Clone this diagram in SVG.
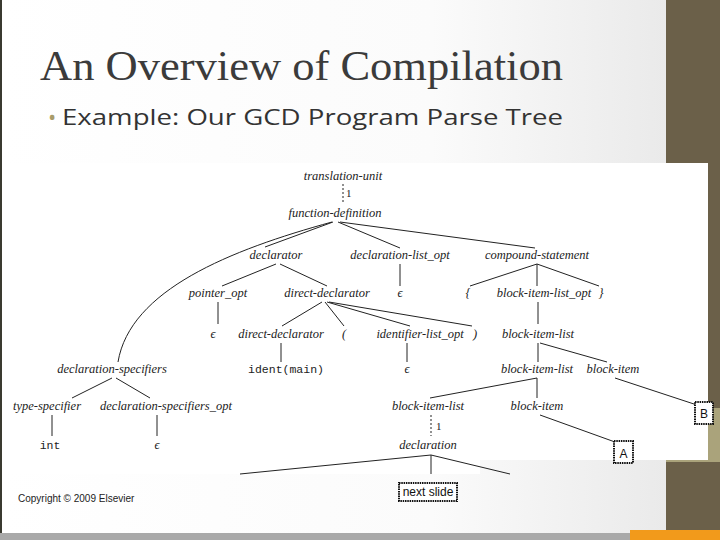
<svg xmlns="http://www.w3.org/2000/svg" width="720" height="540" viewBox="0 0 720 540">
<defs>
<linearGradient id="bg" x1="0" y1="0" x2="1" y2="0"><stop offset="0" stop-color="#ffffff"/><stop offset="0.6" stop-color="#fbfbfb"/><stop offset="1" stop-color="#e6e6e6"/></linearGradient>
<style>
.nt{font-family:"Liberation Serif",serif;font-style:italic;font-size:12.5px;fill:#222;text-anchor:middle}
.mo{font-family:"Liberation Mono",monospace;font-size:11.5px;fill:#222;text-anchor:middle}
.num{font-family:"Liberation Serif",serif;font-size:11px;fill:#222}
.ln{stroke:#222;stroke-width:1;fill:none}
.ds{stroke:#222;stroke-width:1;stroke-dasharray:2,2;fill:none}
.bx{fill:#fff;stroke:#111;stroke-width:2;stroke-dasharray:1.5,0.8}
.bt{font-family:"Liberation Sans",sans-serif;font-size:12px;fill:#111;text-anchor:middle}
</style>
</defs>
<rect width="720" height="540" fill="url(#bg)"/>
<rect x="0" y="0" width="2" height="540" fill="#3a3a30"/>
<rect x="666" y="0" width="54" height="540" fill="#6b6049"/>
<rect x="666" y="408" width="54" height="54" fill="#aaa37b"/>
<rect x="0" y="533" width="720" height="7" fill="#a9a9a9"/>
<rect x="630" y="530" width="90" height="10" fill="#f29a1b"/>
<rect x="2" y="163" width="706" height="297" fill="#fff"/>
<rect x="2" y="460" width="478" height="14" fill="#fff"/>
<text x="40" y="80" font-family="Liberation Serif,serif" font-size="42" fill="#3b3b3b" textLength="523" lengthAdjust="spacingAndGlyphs">An Overview of Compilation</text>
<text x="48" y="125" font-family="Open Sans,sans-serif" font-size="22" fill="#a89c6a">•</text>
<text x="62" y="125" font-family="Open Sans,sans-serif" font-size="22" fill="#333" textLength="501" lengthAdjust="spacingAndGlyphs">Example: Our GCD Program Parse Tree</text>
<text x="18" y="502" font-family="Liberation Sans,sans-serif" font-size="10" fill="#222">Copyright © 2009 Elsevier</text>
<g id="connectors">
<path class="ds" d="M343 184V204"/>
<path class="ln" d="M332 222C230 250 130 290 118 362"/>
<path class="ln" d="M333 222L265 247M338 222L400 248M340 222L535 248"/>
<path class="ln" d="M276 264L222 286M280 264L327 286M400 264V286"/>
<path class="ln" d="M537 264L470 286M537 264V286M537 264L599 286"/>
<path class="ln" d="M218 302V324"/>
<path class="ln" d="M322 302L282 326M325 302L344 326M327 302L410 326M329 302L472 326"/>
<path class="ln" d="M538 302V324"/>
<path class="ln" d="M281 343V362M407 343V362"/>
<path class="ln" d="M538 343V362M540 343L607 362"/>
<path class="ln" d="M112 378L72 398M116 378L150 398"/>
<path class="ln" d="M537 378L430 398M537 378V398M615 378L697 405"/>
<path class="ln" d="M540 415L615 442"/>
<path class="ln" d="M52 415V436M157 415V436"/>
<path class="ds" d="M431 415V436"/>
<path class="ln" d="M431 455L240 474M431 455V474M431 455L510 474"/>
</g>
<g id="n-tu"><text class="nt" x="343" y="180">translation-unit</text><text class="num" x="346" y="197">1</text></g>
<g id="n-fd"><text class="nt" x="335" y="217">function-definition</text></g>
<g id="n-decl"><text class="nt" x="276" y="259">declarator</text></g>
<g id="n-dlo"><text class="nt" x="400" y="259">declaration-list_opt</text></g>
<g id="n-cs"><text class="nt" x="537" y="259">compound-statement</text></g>
<g id="n-po"><text class="nt" x="218" y="297">pointer_opt</text></g>
<g id="n-dd"><text class="nt" x="327" y="297">direct-declarator</text></g>
<g id="n-e1"><text class="nt" x="400" y="297">ϵ</text></g>
<g id="n-lb"><text class="nt" x="468" y="297">{</text></g>
<g id="n-bilo"><text class="nt" x="544" y="297">block-item-list_opt</text></g>
<g id="n-rb"><text class="nt" x="601" y="297">}</text></g>
<g id="n-e2"><text class="nt" x="213" y="338">ϵ</text></g>
<g id="n-dd2"><text class="nt" x="281" y="338">direct-declarator</text></g>
<g id="n-lp"><text class="nt" x="344" y="338">(</text></g>
<g id="n-ilo"><text class="nt" x="420" y="338">identifier-list_opt</text></g>
<g id="n-rp"><text class="nt" x="475" y="338">)</text></g>
<g id="n-bil1"><text class="nt" x="538" y="338">block-item-list</text></g>
<g id="n-ds"><text class="nt" x="112" y="373">declaration-specifiers</text></g>
<g id="n-id"><text class="mo" x="286" y="373">ident(main)</text></g>
<g id="n-e3"><text class="nt" x="407" y="373">ϵ</text></g>
<g id="n-bil2"><text class="nt" x="537" y="373">block-item-list</text></g>
<g id="n-bi1"><text class="nt" x="613" y="373">block-item</text></g>
<g id="n-ts"><text class="nt" x="47" y="410">type-specifier</text></g>
<g id="n-dso"><text class="nt" x="166" y="410">declaration-specifiers_opt</text></g>
<g id="n-bil3"><text class="nt" x="428" y="410">block-item-list</text><text class="num" x="436" y="430">1</text></g>
<g id="n-bi2"><text class="nt" x="537" y="410">block-item</text></g>
<g id="n-int"><text class="mo" x="50" y="449">int</text></g>
<g id="n-e4"><text class="nt" x="157" y="449">ϵ</text></g>
<g id="n-dcl"><text class="nt" x="428" y="449">declaration</text></g>
<g id="n-B"><rect class="bx" x="695" y="402" width="18" height="22"/><text class="bt" x="704" y="418" font-size="15">B</text></g>
<g id="n-A"><rect class="bx" x="614" y="441" width="19" height="22"/><text class="bt" x="623.5" y="458" font-size="15">A</text></g>
<g id="n-next"><rect class="bx" x="399" y="483" width="58" height="18"/><text class="bt" x="428" y="496">next slide</text></g>
</svg>
